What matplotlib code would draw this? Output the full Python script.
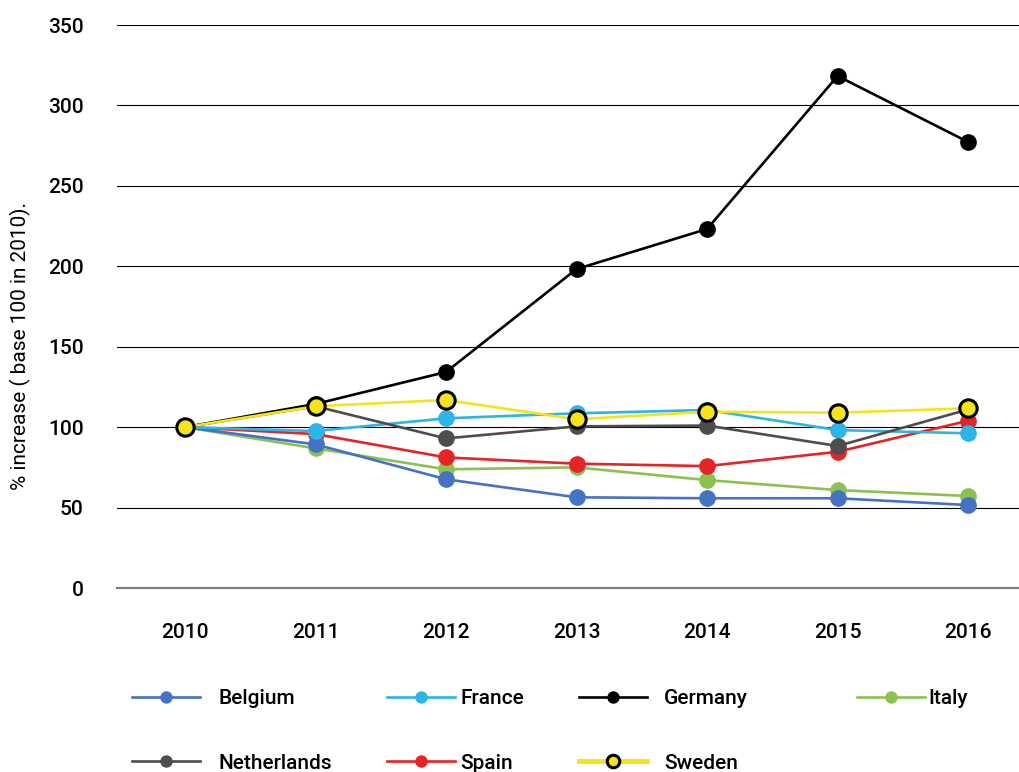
import numpy as np
import matplotlib
matplotlib.use("Agg")
import matplotlib.pyplot as plt

matplotlib.rcParams["font.family"] = ["Roboto", "DejaVu Sans"]

years = ["2010", "2011", "2012", "2013", "2014", "2015", "2016"]
belgium = [100, 89.3, 67.6, 56.4, 55.8, 55.8, 51.6]
france = [100, 97.6, 105.5, 108.6, 110.7, 98.2, 96.2]
germany = [100, 114.4, 134.3, 198.3, 223.2, 318.3, 277.3]
italy = [100, 86.8, 73.8, 75.0, 67.1, 60.9, 57.2]
netherlands = [100, 113.0, 93.0, 100.5, 101.0, 88.3, 111.0]
spain = [100, 95.7, 81.2, 77.3, 75.8, 84.7, 104.0]
sweden = [100, 113.0, 116.9, 104.9, 109.6, 109.0, 111.7]

x = np.arange(len(years))

fig = plt.figure(figsize=(10.19, 7.72), dpi=100)
ax = fig.add_axes([0.1148, 0.2383, 0.8852, 0.7293])

lw = 1.9
ms = 11
# draw order chosen so overlaps look like the original
h_it, = ax.plot(x, italy, color="#8cc152", lw=lw, marker="o", ms=ms, label="Italy", zorder=3)
h_sp, = ax.plot(x, spain, color="#e42527", lw=lw, marker="o", ms=ms, label="Spain", zorder=4)
h_be, = ax.plot(x, belgium, color="#4472c4", lw=lw, marker="o", ms=ms, label="Belgium", zorder=5)
h_fr, = ax.plot(x, france, color="#2db4e8", lw=lw, marker="o", ms=ms, label="France", zorder=6)
h_nl, = ax.plot(x, netherlands, color="#4d4d4d", lw=lw, marker="o", ms=ms, label="Netherlands", zorder=7)
h_de, = ax.plot(x, germany, color="black", lw=lw, marker="o", ms=ms, label="Germany", zorder=8)
h_se, = ax.plot(x, sweden, color="#f4e41c", lw=lw, marker="o", ms=12.5, mfc="#f4e41c",
                mec="black", mew=2.2, label="Sweden", zorder=9)

ax.set_xlim(-0.521, 6.39)
ax.set_ylim(0, 350)
ax.set_yticks(np.arange(0, 351, 50))
ax.set_xticks(x)
ax.set_xticklabels(years)
for s in ax.spines.values():
    s.set_visible(False)
ax.grid(axis="y", color="black", lw=0.8, zorder=1)
ax.axhline(0, color="#808080", lw=1.6, zorder=2, clip_on=False)
ax.tick_params(length=0, labelsize=15, pad=0)
ax.tick_params(axis="x", pad=25)
ax.tick_params(axis="y", pad=24)
for t in ax.get_xticklabels() + ax.get_yticklabels():
    t.set_fontweight("medium")

ax.set_ylabel("% increase ( base 100 in 2010).", fontsize=15)
ax.yaxis.set_label_coords(-0.095, 0.43)

# legend: one small legend per column, like the spreadsheet layout
columns = [([h_be, h_nl], 132, 0.9),
           ([h_fr, h_sp], 387, 0.25),
           ([h_de, h_se], 579, 0.8),
           ([h_it], 857, 0.15)]
for hs, px, pad in columns:
    leg = fig.legend(hs, [h.get_label() for h in hs], loc="upper left",
                     bbox_to_anchor=(px / 1019, 1 - 689 / 772), frameon=False,
                     handlelength=3.27, handletextpad=pad, labelspacing=2.19,
                     markerscale=0.72, borderpad=0, borderaxespad=0,
                     prop={"size": 15, "weight": "medium"})
    for line, h in zip(leg.get_lines(), hs):
        if h is h_se:
            line.set_linewidth(3.6)

plt.savefig("out.png", dpi=100)
